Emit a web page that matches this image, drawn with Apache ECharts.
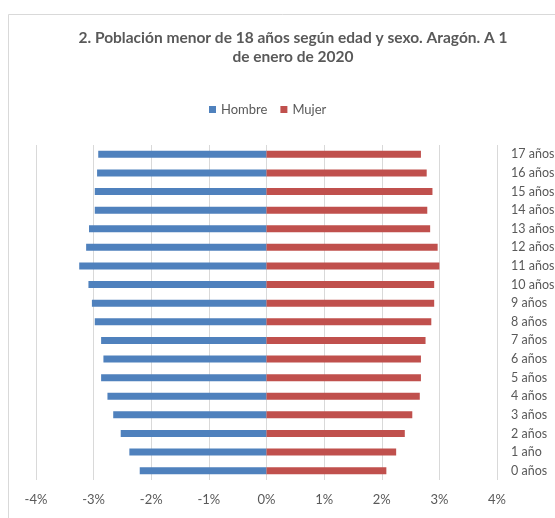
<!DOCTYPE html>
<html>
<head>
<meta charset="utf-8">
<script src="https://cdn.jsdelivr.net/npm/echarts@6/dist/echarts.min.js"></script>
<style>
html,body{margin:0;padding:0;background:#fff;}
#c{width:555px;height:518px;}
</style>
</head>
<body>
<div id="c"></div>
<script>
var categories = ['0 años','1 año','2 años','3 años','4 años','5 años','6 años','7 años','8 años','9 años','10 años','11 años','12 años','13 años','14 años','15 años','16 años','17 años'];
var hombre = [2.20, 2.38, 2.53, 2.66, 2.76, 2.87, 2.83, 2.87, 2.98, 3.03, 3.09, 3.25, 3.13, 3.08, 2.98, 2.98, 2.94, 2.92];
var mujer = [2.08, 2.25, 2.40, 2.53, 2.66, 2.68, 2.68, 2.76, 2.86, 2.91, 2.91, 3.00, 2.97, 2.84, 2.79, 2.88, 2.78, 2.68];
var titleText = '2. Población menor de 18 años según edad y sexo. Aragón. A 1\nde enero de 2020';
var seriesNames = ['Hombre', 'Mujer'];

var FONT = 'Lato';
var chart = echarts.init(document.getElementById('c'), null, {renderer: 'canvas'});
chart.setOption({
  animation: false,
  backgroundColor: '#fff',
  graphic: [{
    type: 'rect',
    shape: {x: 8.5, y: 14.5, width: 600, height: 600},
    style: {fill: 'none', stroke: '#d9d9d9', lineWidth: 1},
    silent: true, z: -1
  }],
  title: {
    text: titleText,
    left: 288, top: 23, textAlign: 'center',
    textStyle: {fontFamily: FONT, fontWeight: 'bold', fontSize: 15.5, color: '#595959', lineHeight: 19}
  },
  legend: {
    data: seriesNames,
    left: 204, top: 98,
    itemWidth: 7, itemHeight: 7, itemGap: 13,
    icon: 'rect',
    textStyle: {fontFamily: FONT, fontSize: 13, color: '#595959'}
  },
  grid: {left: 36, right: 58, top: 145, bottom: 38, containLabel: false, outerBoundsMode: 'none'},
  xAxis: {
    type: 'value', min: -4, max: 4, interval: 1,
    axisLine: {show: false}, axisTick: {show: false},
    splitLine: {show: true, lineStyle: {color: '#d9d9d9', width: 1}},
    axisLabel: {formatter: function(v){ return v + '%'; }, fontFamily: FONT, fontSize: 13, color: '#595959', margin: 13}
  },
  yAxis: {
    type: 'category', data: categories, position: 'right',
    axisLine: {show: false}, axisTick: {show: false},
    axisLabel: {fontFamily: FONT, fontSize: 12.5, color: '#595959', margin: 14, align: 'left'}
  },
  series: [
    {name: seriesNames[0], type: 'bar', stack: 'p', barWidth: 7,
     itemStyle: {color: '#4f81bd'},
     data: hombre.map(function(v){ return -v; })},
    {name: seriesNames[1], type: 'bar', stack: 'p', barWidth: 7,
     itemStyle: {color: '#c0504d'},
     data: mujer}
  ]
});
</script>
</body>
</html>
